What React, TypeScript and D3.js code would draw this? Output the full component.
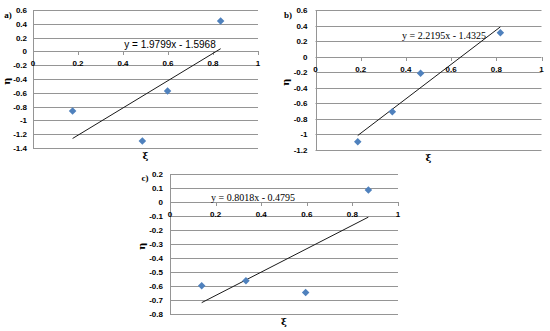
import React, { useEffect, useRef } from 'react';
import * as d3 from 'd3';

// panel a)
const xiA = [0.176, 0.486, 0.598, 0.834];
const etaA = [-0.865, -1.3, -0.575, 0.44];
const yTicksA = [0.6, 0.4, 0.2, 0, -0.2, -0.4, -0.6, -0.8, -1, -1.2, -1.4];

// panel b)
const xiB = [0.187, 0.34, 0.465, 0.818];
const etaB = [-1.093, -0.707, -0.213, 0.309];
const yTicksB = [0.6, 0.4, 0.2, 0, -0.2, -0.4, -0.6, -0.8, -1, -1.2];

// panel c)
const xiC = [0.139, 0.333, 0.595, 0.87];
const etaC = [-0.597, -0.561, -0.644, 0.086];
const yTicksC = [0.2, 0.1, 0, -0.1, -0.2, -0.3, -0.4, -0.5, -0.6, -0.7, -0.8];

const xTicks = [0, 0.2, 0.4, 0.6, 0.8, 1];
const panelLabels = ['a)', 'b)', 'c)'];
const equations = ['y = 1.9799x - 1.5968', 'y = 2.2195x - 1.4325', 'y = 0.8018x - 0.4795'];

interface Panel {
  xi: number[];
  eta: number[];
  yTicks: number[];
  label: string;
  eq: string;
  x0: number; x1: number; yTop: number; yBot: number;
  eqX: number; eqY: number; eqFont: string;
  labX: number; labY: number;
  tickGap: number; etaX: number;
}

const panels: Panel[] = [
  { xi: xiA, eta: etaA, yTicks: yTicksA, label: panelLabels[0], eq: equations[0],
    x0: 33, x1: 258, yTop: 10, yBot: 148, eqX: 170, eqY: 48, eqFont: 'Arial, Liberation Sans, sans-serif',
    labX: 8, labY: 18, tickGap: 6, etaX: 10 },
  { xi: xiB, eta: etaB, yTicks: yTicksB, label: panelLabels[1], eq: equations[1],
    x0: 315.5, x1: 541.5, yTop: 10, yBot: 150, eqX: 444, eqY: 39, eqFont: 'Times New Roman, Liberation Serif, serif',
    labX: 288, labY: 18, tickGap: 8, etaX: 289 },
  { xi: xiC, eta: etaC, yTicks: yTicksC, label: panelLabels[2], eq: equations[2],
    x0: 170, x1: 398, yTop: 174, yBot: 314.3, eqX: 253, eqY: 201, eqFont: 'Times New Roman, Liberation Serif, serif',
    labX: 145, labY: 181, tickGap: 7, etaX: 145 },
];

const App: React.FC = () => {
  const svgRef = useRef<SVGSVGElement>(null);

  useEffect(() => {
    if (!svgRef.current) return;
    const svg = d3.select(svgRef.current);
    svg.selectAll('*').remove();

    panels.forEach(p => {
      const ext = d3.extent(p.yTicks) as [number, number];
      const x = d3.scaleLinear().domain([0, 1]).range([p.x0, p.x1]);
      const y = d3.scaleLinear().domain(ext).range([p.yBot, p.yTop]);
      const g = svg.append('g');

      // horizontal grid
      g.selectAll('line.grid')
        .data(p.yTicks)
        .enter()
        .append('line')
        .attr('x1', p.x0).attr('x2', p.x1)
        .attr('y1', d => Math.round(y(d)) + 0.5).attr('y2', d => Math.round(y(d)) + 0.5)
        .attr('stroke', '#959595')
        .attr('stroke-width', 1);

      // vertical axis line
      g.append('line')
        .attr('x1', Math.round(p.x0) + 0.5).attr('x2', Math.round(p.x0) + 0.5)
        .attr('y1', p.yTop).attr('y2', p.yBot)
        .attr('stroke', '#959595');

      // y tick labels
      g.selectAll('text.yt')
        .data(p.yTicks)
        .enter()
        .append('text')
        .attr('x', p.x0 - p.tickGap)
        .attr('y', d => y(d) + 3)
        .attr('text-anchor', 'end')
        .attr('font-family', 'Arial, Liberation Sans, sans-serif')
        .attr('font-weight', 'bold')
        .attr('font-size', 8)
        .text(d => String(d));

      // x tick labels, hanging under the zero line
      const y0 = y(0);
      g.selectAll('line.xtk')
        .data(xTicks)
        .enter()
        .append('line')
        .attr('x1', d => Math.round(x(d)) + 0.5).attr('x2', d => Math.round(x(d)) + 0.5)
        .attr('y1', Math.round(y0)).attr('y2', Math.round(y0) + 4)
        .attr('stroke', '#959595');
      g.selectAll('text.xt')
        .data(xTicks)
        .enter()
        .append('text')
        .attr('x', d => x(d))
        .attr('y', y0 + 15)
        .attr('text-anchor', 'middle')
        .attr('font-family', 'Arial, Liberation Sans, sans-serif')
        .attr('font-weight', 'bold')
        .attr('font-size', 8)
        .text(d => String(d));

      // linear trendline (least squares)
      const mx = d3.mean(p.xi)!;
      const my = d3.mean(p.eta)!;
      const sxy = d3.sum(p.xi, (v, i) => (v - mx) * (p.eta[i] - my));
      const sxx = d3.sum(p.xi, v => (v - mx) * (v - mx));
      const slope = sxy / sxx;
      const icpt = my - slope * mx;
      const [xa, xb] = d3.extent(p.xi) as [number, number];
      g.append('line')
        .attr('x1', x(xa)).attr('y1', y(slope * xa + icpt))
        .attr('x2', x(xb)).attr('y2', y(slope * xb + icpt))
        .attr('stroke', '#1a1a1a')
        .attr('stroke-width', 1);

      // points
      const diamond = d3.symbol().type(d3.symbolDiamond2).size(36);
      g.selectAll('path.pt')
        .data(p.xi)
        .enter()
        .append('path')
        .attr('d', diamond)
        .attr('transform', (d, i) => `translate(${x(d)},${y(p.eta[i])})`)
        .attr('fill', '#4f81bd');

      // equation
      g.append('text')
        .attr('x', p.eqX).attr('y', p.eqY)
        .attr('text-anchor', 'middle')
        .attr('font-family', p.eqFont)
        .attr('font-size', 10)
        .text(p.eq);

      // axis titles
      const midY = (p.yTop + p.yBot) / 2;
      g.append('text')
        .attr('transform', `translate(${p.etaX},${midY + 2}) rotate(-90)`)
        .attr('text-anchor', 'middle')
        .attr('font-family', 'DejaVu Serif, serif')
        .attr('font-weight', 'bold')
        .attr('font-size', 10)
        .text('η');
      g.append('text')
        .attr('x', x(0.5)).attr('y', p.yBot + 11)
        .attr('text-anchor', 'middle')
        .attr('font-family', 'DejaVu Serif, serif')
        .attr('font-weight', 'bold')
        .attr('font-size', 10)
        .text('ξ');

      // panel label
      g.append('text')
        .attr('x', p.labX).attr('y', p.labY)
        .attr('text-anchor', 'middle')
        .attr('font-family', 'Times New Roman, Liberation Serif, serif')
        .attr('font-weight', 'bold')
        .attr('font-size', 9)
        .text(p.label);
    });
  }, []);

  return (
    <svg
      ref={svgRef}
      width={550}
      height={331}
      style={{ position: 'absolute', left: 0, top: 0, background: '#fff' }}
    />
  );
};

export default App;
